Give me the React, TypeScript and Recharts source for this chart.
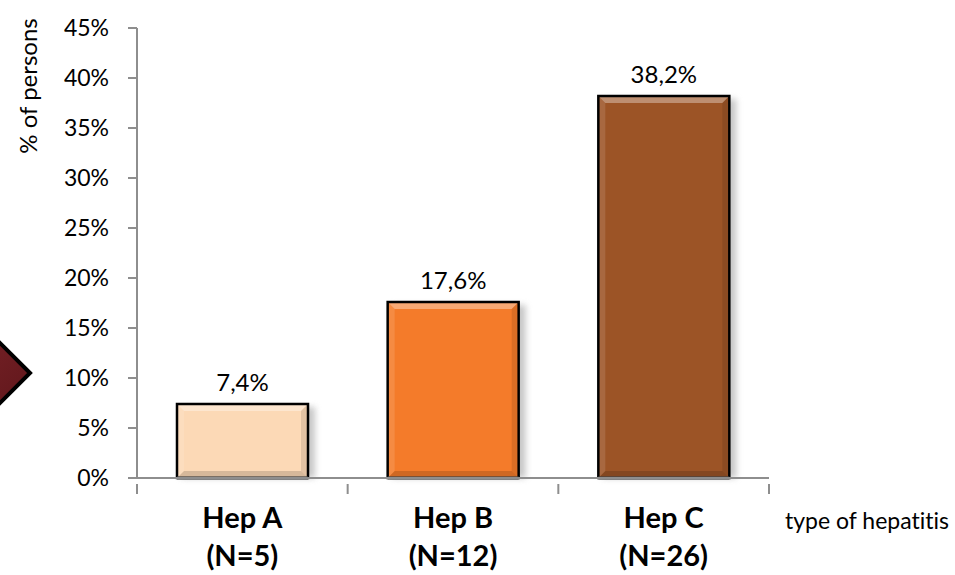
import { BarChart, Bar, XAxis, YAxis, Cell, LabelList } from "recharts";

const CATEGORIES = ["Hep A", "Hep B", "Hep C"];
const COUNTS = ["(N=5)", "(N=12)", "(N=26)"];
const VALUES = [7.4, 17.6, 38.2];
const COLORS = ["#fcd9b6", "#f47b2a", "#9c5426"];
const Y_TICKS = [0, 5, 10, 15, 20, 25, 30, 35, 40, 45];

const data = CATEGORIES.map((name, i) => ({
  name,
  count: COUNTS[i],
  value: VALUES[i],
}));

const FONT = "Lato, 'Open Sans', sans-serif";
const BAND = (955 - 137 - 186) / 3;

function BevelBar(props: any) {
  const { x, y, width, height, fill } = props;
  if (!height || height <= 0) return null;
  const b = 7;
  return (
    <g>
      <rect
        x={x + 4}
        y={y + 3}
        width={width + 3}
        height={height - 3}
        fill="#9a9a9a"
        opacity={0.55}
        filter="url(#barShadow)"
      />
      <rect x={x} y={y} width={width} height={height} fill={fill} />
      <polygon
        points={`${x},${y} ${x + width},${y} ${x + width - b},${y + b} ${x + b},${y + b}`}
        fill="#ffffff"
        opacity={0.35}
      />
      <polygon
        points={`${x},${y} ${x + b},${y + b} ${x + b},${y + height - b} ${x},${y + height}`}
        fill="#ffffff"
        opacity={0.12}
      />
      <polygon
        points={`${x + width},${y} ${x + width},${y + height} ${x + width - b},${y + height - b} ${x + width - b},${y + b}`}
        fill="#000000"
        opacity={0.1}
      />
      <polygon
        points={`${x},${y + height} ${x + width},${y + height} ${x + width - b},${y + height - b} ${x + b},${y + height - b}`}
        fill="#000000"
        opacity={0.15}
      />
      <rect
        x={x}
        y={y}
        width={width}
        height={height}
        fill="none"
        stroke="#000"
        strokeWidth={2.5}
      />
      <line
        x1={x}
        x2={x + width}
        y1={y + height}
        y2={y + height}
        stroke="#555"
        strokeWidth={3}
      />
    </g>
  );
}

function CategoryTick(props: any) {
  const { x, y, payload, index } = props;
  const d = data[index];
  const top = y - 2;
  return (
    <g>
      <line x1={x - BAND / 2} x2={x - BAND / 2} y1={top} y2={top + 10} stroke="#8e8e8e" strokeWidth={2} />
      {index === CATEGORIES.length - 1 && (
        <line x1={x + BAND / 2} x2={x + BAND / 2} y1={top} y2={top + 10} stroke="#8e8e8e" strokeWidth={2} />
      )}
      <text
        x={x}
        y={528}
        textAnchor="middle"
        fontFamily={FONT}
        fontWeight={700}
        fontSize={29}
        fill="#000"
      >
        {payload.value}
      </text>
      <text
        x={x}
        y={566}
        textAnchor="middle"
        fontFamily={FONT}
        fontWeight={700}
        fontSize={29}
        fill="#000"
      >
        {d ? d.count : ""}
      </text>
    </g>
  );
}

export default function App() {
  return (
    <div style={{ position: "absolute", left: 0, top: 0, width: 955, height: 575, background: "#fff", overflow: "hidden" }}>
      <svg
        width={60}
        height={575}
        style={{ position: "absolute", left: 0, top: 0 }}
      >
        <defs>
          <linearGradient id="diamondFill" x1="0" y1="0" x2="1" y2="1">
            <stop offset="0%" stopColor="#8a2a30" />
            <stop offset="100%" stopColor="#5a1418" />
          </linearGradient>
        </defs>
        <polygon
          points="30,373 -40,303 -110,373 -40,443"
          fill="url(#diamondFill)"
          stroke="#000"
          strokeWidth={4}
        />
      </svg>
      <BarChart
        width={955}
        height={575}
        data={data}
        margin={{ top: 28, right: 186, bottom: 0, left: 0 }}
        barSize={131}
        style={{ position: "absolute", left: 0, top: 0 }}
      >
        <defs>
          <filter id="barShadow" x="-20%" y="-20%" width="140%" height="140%">
            <feGaussianBlur stdDeviation="3" />
          </filter>
        </defs>
        <YAxis
          width={137}
          domain={[0, 45]}
          ticks={Y_TICKS}
          interval={0}
          tickFormatter={(v: number) => `${v}%`}
          tick={{ fontFamily: FONT, fontSize: 23, fill: "#000" }}
          tickSize={9}
          tickMargin={19}
          stroke="#8e8e8e"
          strokeWidth={2}
          label={{
            content: () => (
              <text
                x={27}
                y={86}
                transform="rotate(-90 27 86)"
                textAnchor="middle"
                dominantBaseline="central"
                fontFamily={FONT}
                fontSize={24}
                fill="#000"
              >
                % of persons
              </text>
            ),
          }}
        />
        <XAxis
          dataKey="name"
          height={97}
          interval={0}
          tickLine={false}
          tick={<CategoryTick />}
          stroke="#8e8e8e"
          strokeWidth={2}
          label={{
            content: () => (
              <text
                x={785}
                y={529}
                fontFamily={FONT}
                fontSize={23}
                fill="#000"
                style={{ fontVariantLigatures: "none" }}
              >
                type of hepatitis
              </text>
            ),
          }}
        />
        <Bar dataKey="value" isAnimationActive={false} shape={<BevelBar />}>
          {data.map((d, i) => (
            <Cell key={d.name} fill={COLORS[i]} />
          ))}
          <LabelList
            dataKey="value"
            position="top"
            offset={13}
            formatter={(v: any) => `${String(v).replace(".", ",")}%`}
            style={{ fontFamily: FONT, fontSize: 24, fill: "#000" }}
          />
        </Bar>
      </BarChart>
    </div>
  );
}
